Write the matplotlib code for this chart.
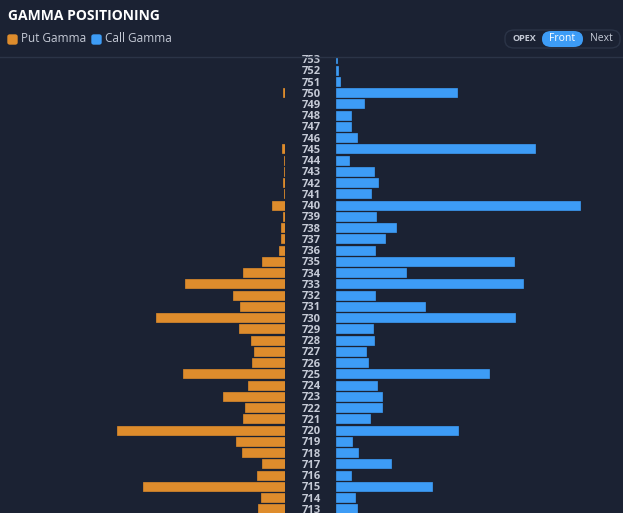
import matplotlib
matplotlib.use("Agg")
import matplotlib.pyplot as plt
from matplotlib.patches import FancyBboxPatch
from matplotlib.transforms import blended_transform_factory

strikes = list(range(753, 712, -1))
put_gamma = [0,0,0,2,0,0,0,0,3,1,1,2,1,13,2,4,4,6,23,42,100,52,45,129,46,34,31,33,102,37,62,40,42,168,49,43,23,28,142,24,27]
call_gamma = [1,2,4,121,28,15,15,21,199,13,38,42,35,244,40,60,49,39,178,70,187,39,89,179,37,38,30,32,153,41,46,46,34,122,16,22,55,15,96,19,21]

BG = "#1b2233"
PUT = "#de8c2c"
CALL = "#3d9cf6"
TXT = "#c5cad6"

W, H = 623, 513
fig = plt.figure(figsize=(W/100, H/100), dpi=100, facecolor=BG)

def fx(px): return px / W
def fy(py): return 1 - py / H

top, bot = 57, 513
ylo = 713 - (bot - 509) / 11.25
yhi = 753 + (59 - top) / 11.25
axL = fig.add_axes([0, 0, fx(285), (bot - top) / H])
axR = fig.add_axes([fx(336), 0, fx(W - 336), (bot - top) / H])
for ax in (axL, axR):
    ax.set_facecolor(BG)
    ax.set_ylim(ylo, yhi)
    ax.axis("off")
axL.set_xlim(285, 0)
axR.set_xlim(0, W - 336)
axL.barh(strikes, put_gamma, height=0.8, color=PUT, edgecolor=PUT, linewidth=0.5)
axR.barh(strikes, call_gamma, height=0.8, color=CALL, edgecolor=CALL, linewidth=0.5)

tr = blended_transform_factory(fig.transFigure, axL.transData)
for s in strikes:
    axL.text(fx(311), s, str(s), color=TXT, fontsize=8, ha="center", va="center_baseline",
             fontweight="bold", family="Open Sans", transform=tr, clip_on=False)

fig.add_artist(plt.Line2D([0, 1], [fy(57), fy(57)], color="#2b3447", lw=1))
fig.text(fx(8), fy(16), "GAMMA POSITIONING", color="white", fontsize=10,
         fontweight="bold", ha="left", va="center", family="Open Sans")
fig.add_artist(FancyBboxPatch((fx(8), fy(44)), fx(9), 9/H, boxstyle="round,pad=0,rounding_size=0.003",
                              color=PUT, transform=fig.transFigure))
fig.text(fx(21), fy(39), "Put Gamma", color=TXT, fontsize=8.5, va="center", family="Open Sans")
fig.add_artist(FancyBboxPatch((fx(92), fy(44)), fx(9), 9/H, boxstyle="round,pad=0,rounding_size=0.003",
                              color=CALL, transform=fig.transFigure))
fig.text(fx(105), fy(39), "Call Gamma", color=TXT, fontsize=8.5, va="center", family="Open Sans")

fig.add_artist(FancyBboxPatch((fx(505), fy(48)), fx(115), 18/H, boxstyle="round,pad=0,rounding_size=0.015",
                              facecolor="none", edgecolor="#2b3447", lw=1, transform=fig.transFigure))
fig.add_artist(FancyBboxPatch((fx(542), fy(47)), fx(41), 16/H, boxstyle="round,pad=0,rounding_size=0.015",
                              facecolor=CALL, edgecolor="none", transform=fig.transFigure))
fig.text(fx(524), fy(39), "OPEX", color=TXT, fontsize=6.5, fontweight="bold", ha="center", va="center", family="Open Sans")
fig.text(fx(562), fy(39), "Front", color="white", fontsize=7.5, ha="center", va="center", family="Open Sans")
fig.text(fx(601), fy(39), "Next", color=TXT, fontsize=7.5, ha="center", va="center", family="Open Sans")

fig.savefig("out.png", dpi=100, facecolor=BG)
